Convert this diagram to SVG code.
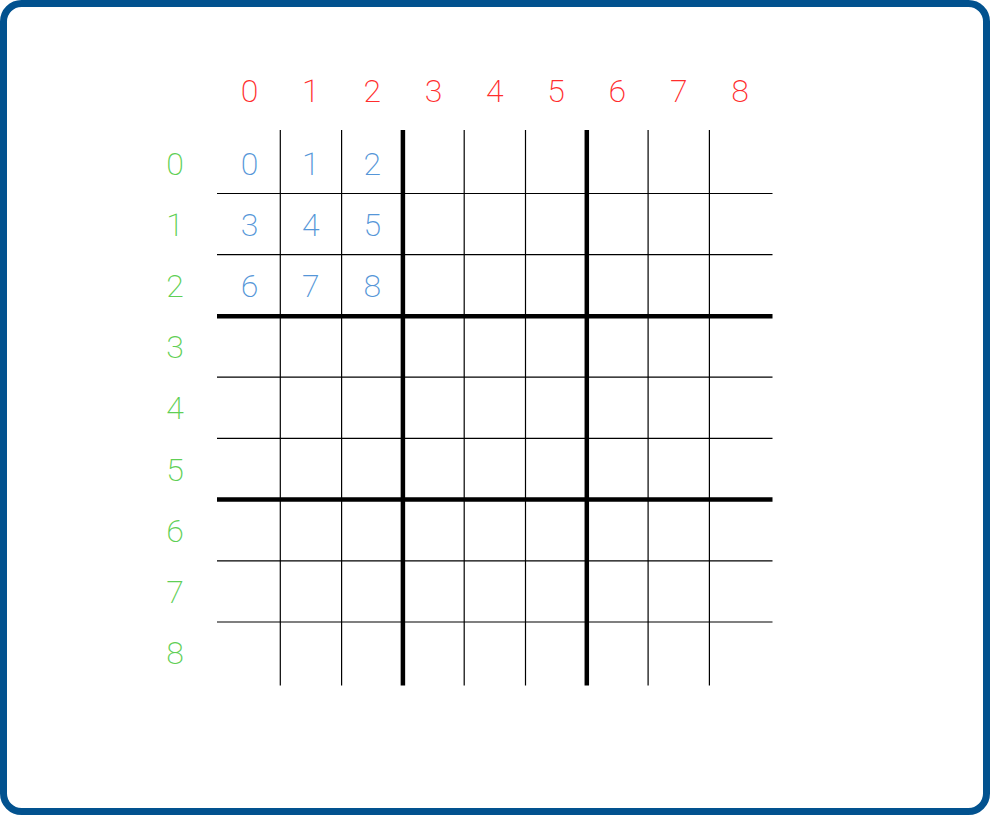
<svg xmlns="http://www.w3.org/2000/svg" width="990" height="815" viewBox="0 0 990 815">
<style>
text{font-family:Roboto,"Liberation Sans",sans-serif;font-weight:200;font-size:32px;text-anchor:middle}
.col{fill:#ff2d2d}.row{fill:#5fcf55}.cell{fill:#5596d8}
.thin{stroke:#000;stroke-width:1.2}.thick{stroke:#000;stroke-width:4.5}
</style>
<rect x="3.5" y="3.5" width="983" height="808" rx="18" fill="#fff" stroke="#02528f" stroke-width="7"/>
<g id="col-labels">
<text class="col" x="249.6" y="101.5">0</text><text class="col" x="310.9" y="101.5">1</text><text class="col" x="372.2" y="101.5">2</text><text class="col" x="433.5" y="101.5">3</text><text class="col" x="494.8" y="101.5">4</text><text class="col" x="556.1" y="101.5">5</text><text class="col" x="617.4" y="101.5">6</text><text class="col" x="678.7" y="101.5">7</text><text class="col" x="740" y="101.5">8</text>
</g>
<g id="row-labels">
<text class="row" x="175" y="174.5">0</text><text class="row" x="175" y="235.7">1</text><text class="row" x="175" y="296.9">2</text><text class="row" x="175" y="358.1">3</text><text class="row" x="175" y="419.3">4</text><text class="row" x="175" y="480.5">5</text><text class="row" x="175" y="541.7">6</text><text class="row" x="175" y="602.9">7</text><text class="row" x="175" y="664.1">8</text>
</g>
<g id="cell-labels">
<text class="cell" x="249.6" y="174.5">0</text><text class="cell" x="310.9" y="174.5">1</text><text class="cell" x="372.2" y="174.5">2</text>
<text class="cell" x="249.6" y="235.7">3</text><text class="cell" x="310.9" y="235.7">4</text><text class="cell" x="372.2" y="235.7">5</text>
<text class="cell" x="249.6" y="296.9">6</text><text class="cell" x="310.9" y="296.9">7</text><text class="cell" x="372.2" y="296.9">8</text>
</g>
<g id="grid">
<line class="thin" x1="280.3" y1="130" x2="280.3" y2="685.5"/>
<line class="thin" x1="341.6" y1="130" x2="341.6" y2="685.5"/>
<line class="thick" x1="402.9" y1="130" x2="402.9" y2="685.5"/>
<line class="thin" x1="464.2" y1="130" x2="464.2" y2="685.5"/>
<line class="thin" x1="525.5" y1="130" x2="525.5" y2="685.5"/>
<line class="thick" x1="586.8" y1="130" x2="586.8" y2="685.5"/>
<line class="thin" x1="648.1" y1="130" x2="648.1" y2="685.5"/>
<line class="thin" x1="709.4" y1="130" x2="709.4" y2="685.5"/>
<line class="thin" x1="217" y1="193.5" x2="772.5" y2="193.5"/>
<line class="thin" x1="217" y1="254.7" x2="772.5" y2="254.7"/>
<line class="thick" x1="217" y1="316.2" x2="772.5" y2="316.2"/>
<line class="thin" x1="217" y1="377.2" x2="772.5" y2="377.2"/>
<line class="thin" x1="217" y1="438.4" x2="772.5" y2="438.4"/>
<line class="thick" x1="217" y1="499.6" x2="772.5" y2="499.6"/>
<line class="thin" x1="217" y1="560.8" x2="772.5" y2="560.8"/>
<line class="thin" x1="217" y1="622" x2="772.5" y2="622"/>
</g>
</svg>
